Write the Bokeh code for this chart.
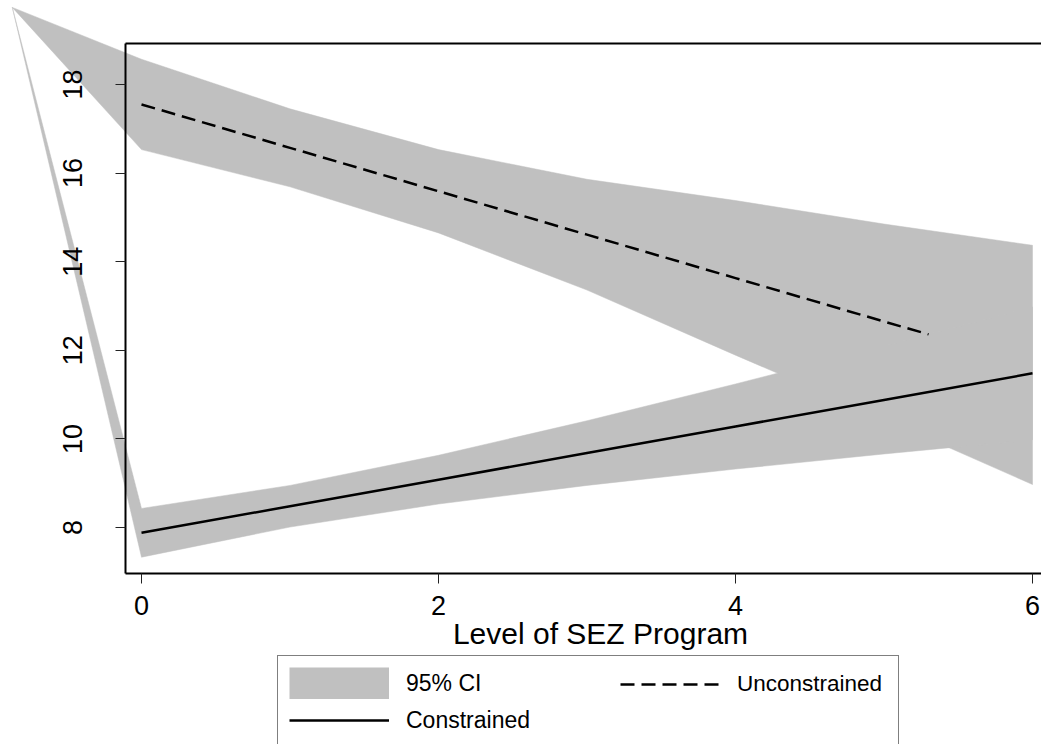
from bokeh.plotting import figure
from bokeh.models import FixedTicker, LinearAxis, Legend, LegendItem, Range1d, Label
from bokeh.embed import file_html
from bokeh.resources import INLINE

# ---- data ----
x_pts = [0, 1, 2, 3, 4, 5, 6]
con_mid = [7.88, 8.48, 9.08, 9.68, 10.28, 10.88, 11.48]
con_hi = [8.43, 8.95, 9.63, 10.41, 11.24, 12.10, 12.98]
con_lo = [7.33, 8.01, 8.53, 8.95, 9.32, 9.66, 9.98]
unc_hi = [18.57, 17.45, 16.53, 15.86, 15.38, 14.85, 14.37]
unc_lo = [16.53, 15.69, 14.65, 13.36, 11.89, 10.45, 8.97]
unc_line_x = [0, 1, 2, 3, 4, 5, 5.3]
unc_line_y = [17.55, 16.57, 15.59, 14.61, 13.63, 12.65, 12.36]
stray_x = -0.87   # stray vertex from which both CI bands are drawn
stray_y = 19.74
x_ticks = [0, 2, 4, 6]
y_ticks = [8, 10, 12, 14, 16, 18]
x_title = "Level of SEZ Program"
legend_labels = ["95% CI", "Unconstrained", "Constrained"]

# ---- layout (plot box inside a full-canvas frame) ----
W, H = 1041, 744
X0, X1 = -0.9495, 6.0606
Y0, Y1 = 3.1016, 19.896
box_left, box_right, box_bottom, box_top = -0.108, 6.29, 6.962, 18.925
FONT = "Liberation Sans"
GREY = "#c0c0c0"

p = figure(width=W, height=H, x_range=Range1d(X0, X1), y_range=Range1d(Y0, Y1),
           output_backend="svg", toolbar_location=None, min_border=0,
           outline_line_color=None, background_fill_color="white",
           border_fill_color="white")
p.xgrid.visible = False
p.ygrid.visible = False

unc_xs = [stray_x] + x_pts + x_pts[::-1]
unc_ys = [stray_y] + unc_hi + unc_lo[::-1]
con_xs = [stray_x] + x_pts + x_pts[::-1]
con_ys = [stray_y] + con_hi + con_lo[::-1]
r_ci = p.patch(unc_xs, unc_ys, fill_color=GREY, line_color=GREY, line_width=0.5)
p.patch(con_xs, con_ys, fill_color=GREY, line_color=GREY, line_width=0.5)
# hidden thick line used only to give the CI legend entry a full-size swatch
r_ci_key = p.line(x_pts, con_mid, line_color=GREY, line_width=32, visible=False)
r_con = p.line(x_pts, con_mid, line_color="black", line_width=2.5)
r_unc = p.line(unc_line_x, unc_line_y, line_color="black", line_width=2.5, line_dash="14 7")

def style_axis(ax):
    ax.axis_line_width = 2
    ax.axis_line_color = "black"
    ax.major_tick_out = 10
    ax.major_tick_in = 0
    ax.major_tick_line_color = "#222222"
    ax.major_tick_line_width = 1
    ax.minor_tick_line_color = None
    ax.major_label_text_font = FONT
    ax.major_label_text_font_size = "27px"
    ax.major_label_text_color = "black"

xa = p.xaxis[0]
style_axis(xa)
xa.fixed_location = box_bottom
xa.bounds = (box_left, box_right)
xa.ticker = FixedTicker(ticks=x_ticks, minor_ticks=[])
xa.major_label_standoff = 13

ya = p.yaxis[0]
style_axis(ya)
ya.fixed_location = box_left
ya.bounds = (box_bottom, box_top)
ya.ticker = FixedTicker(ticks=y_ticks, minor_ticks=[])
ya.major_label_orientation = "vertical"
ya.major_label_standoff = 33

top = LinearAxis(fixed_location=box_top, bounds=(box_left, box_right),
                 ticker=FixedTicker(ticks=[], minor_ticks=[]),
                 major_label_text_font_size="0px", axis_line_width=2,
                 axis_line_color="black", major_tick_line_color=None,
                 minor_tick_line_color=None)
p.add_layout(top, "above")

# x-axis title, centred under the (wider than visible) plot box
p.add_layout(Label(x=600, y=111, x_units="screen", y_units="screen", text=x_title,
                   text_align="center", text_baseline="alphabetic",
                   text_font=FONT, text_font_size="30px", text_color="black"))

# legend box with the left column, plus a borderless legend for the right column
leg_a = Legend(items=[LegendItem(label=legend_labels[0], renderers=[r_ci, r_ci_key]),
                      LegendItem(label=legend_labels[2], renderers=[r_con])],
               location=(277, -4), orientation="vertical", click_policy="none",
               glyph_width=100, glyph_height=32, label_standoff=17,
               label_width=481, spacing=5, padding=11, margin=0,
               border_line_color="black", border_line_width=1,
               label_text_font=FONT, label_text_font_size="23px",
               label_text_color="black", background_fill_color="white",
               background_fill_alpha=1, inactive_fill_alpha=0)
leg_b = Legend(items=[LegendItem(label=legend_labels[1], renderers=[r_unc])],
               location=(620, 44), orientation="vertical",
               glyph_width=100, glyph_height=32, label_standoff=17,
               spacing=0, padding=0, margin=0,
               border_line_color=None, background_fill_alpha=0,
               label_text_font=FONT, label_text_font_size="22.5px",
               label_text_color="black")
p.add_layout(leg_a)
p.add_layout(leg_b)

open("out.html", "w").write(file_html(p, INLINE))
